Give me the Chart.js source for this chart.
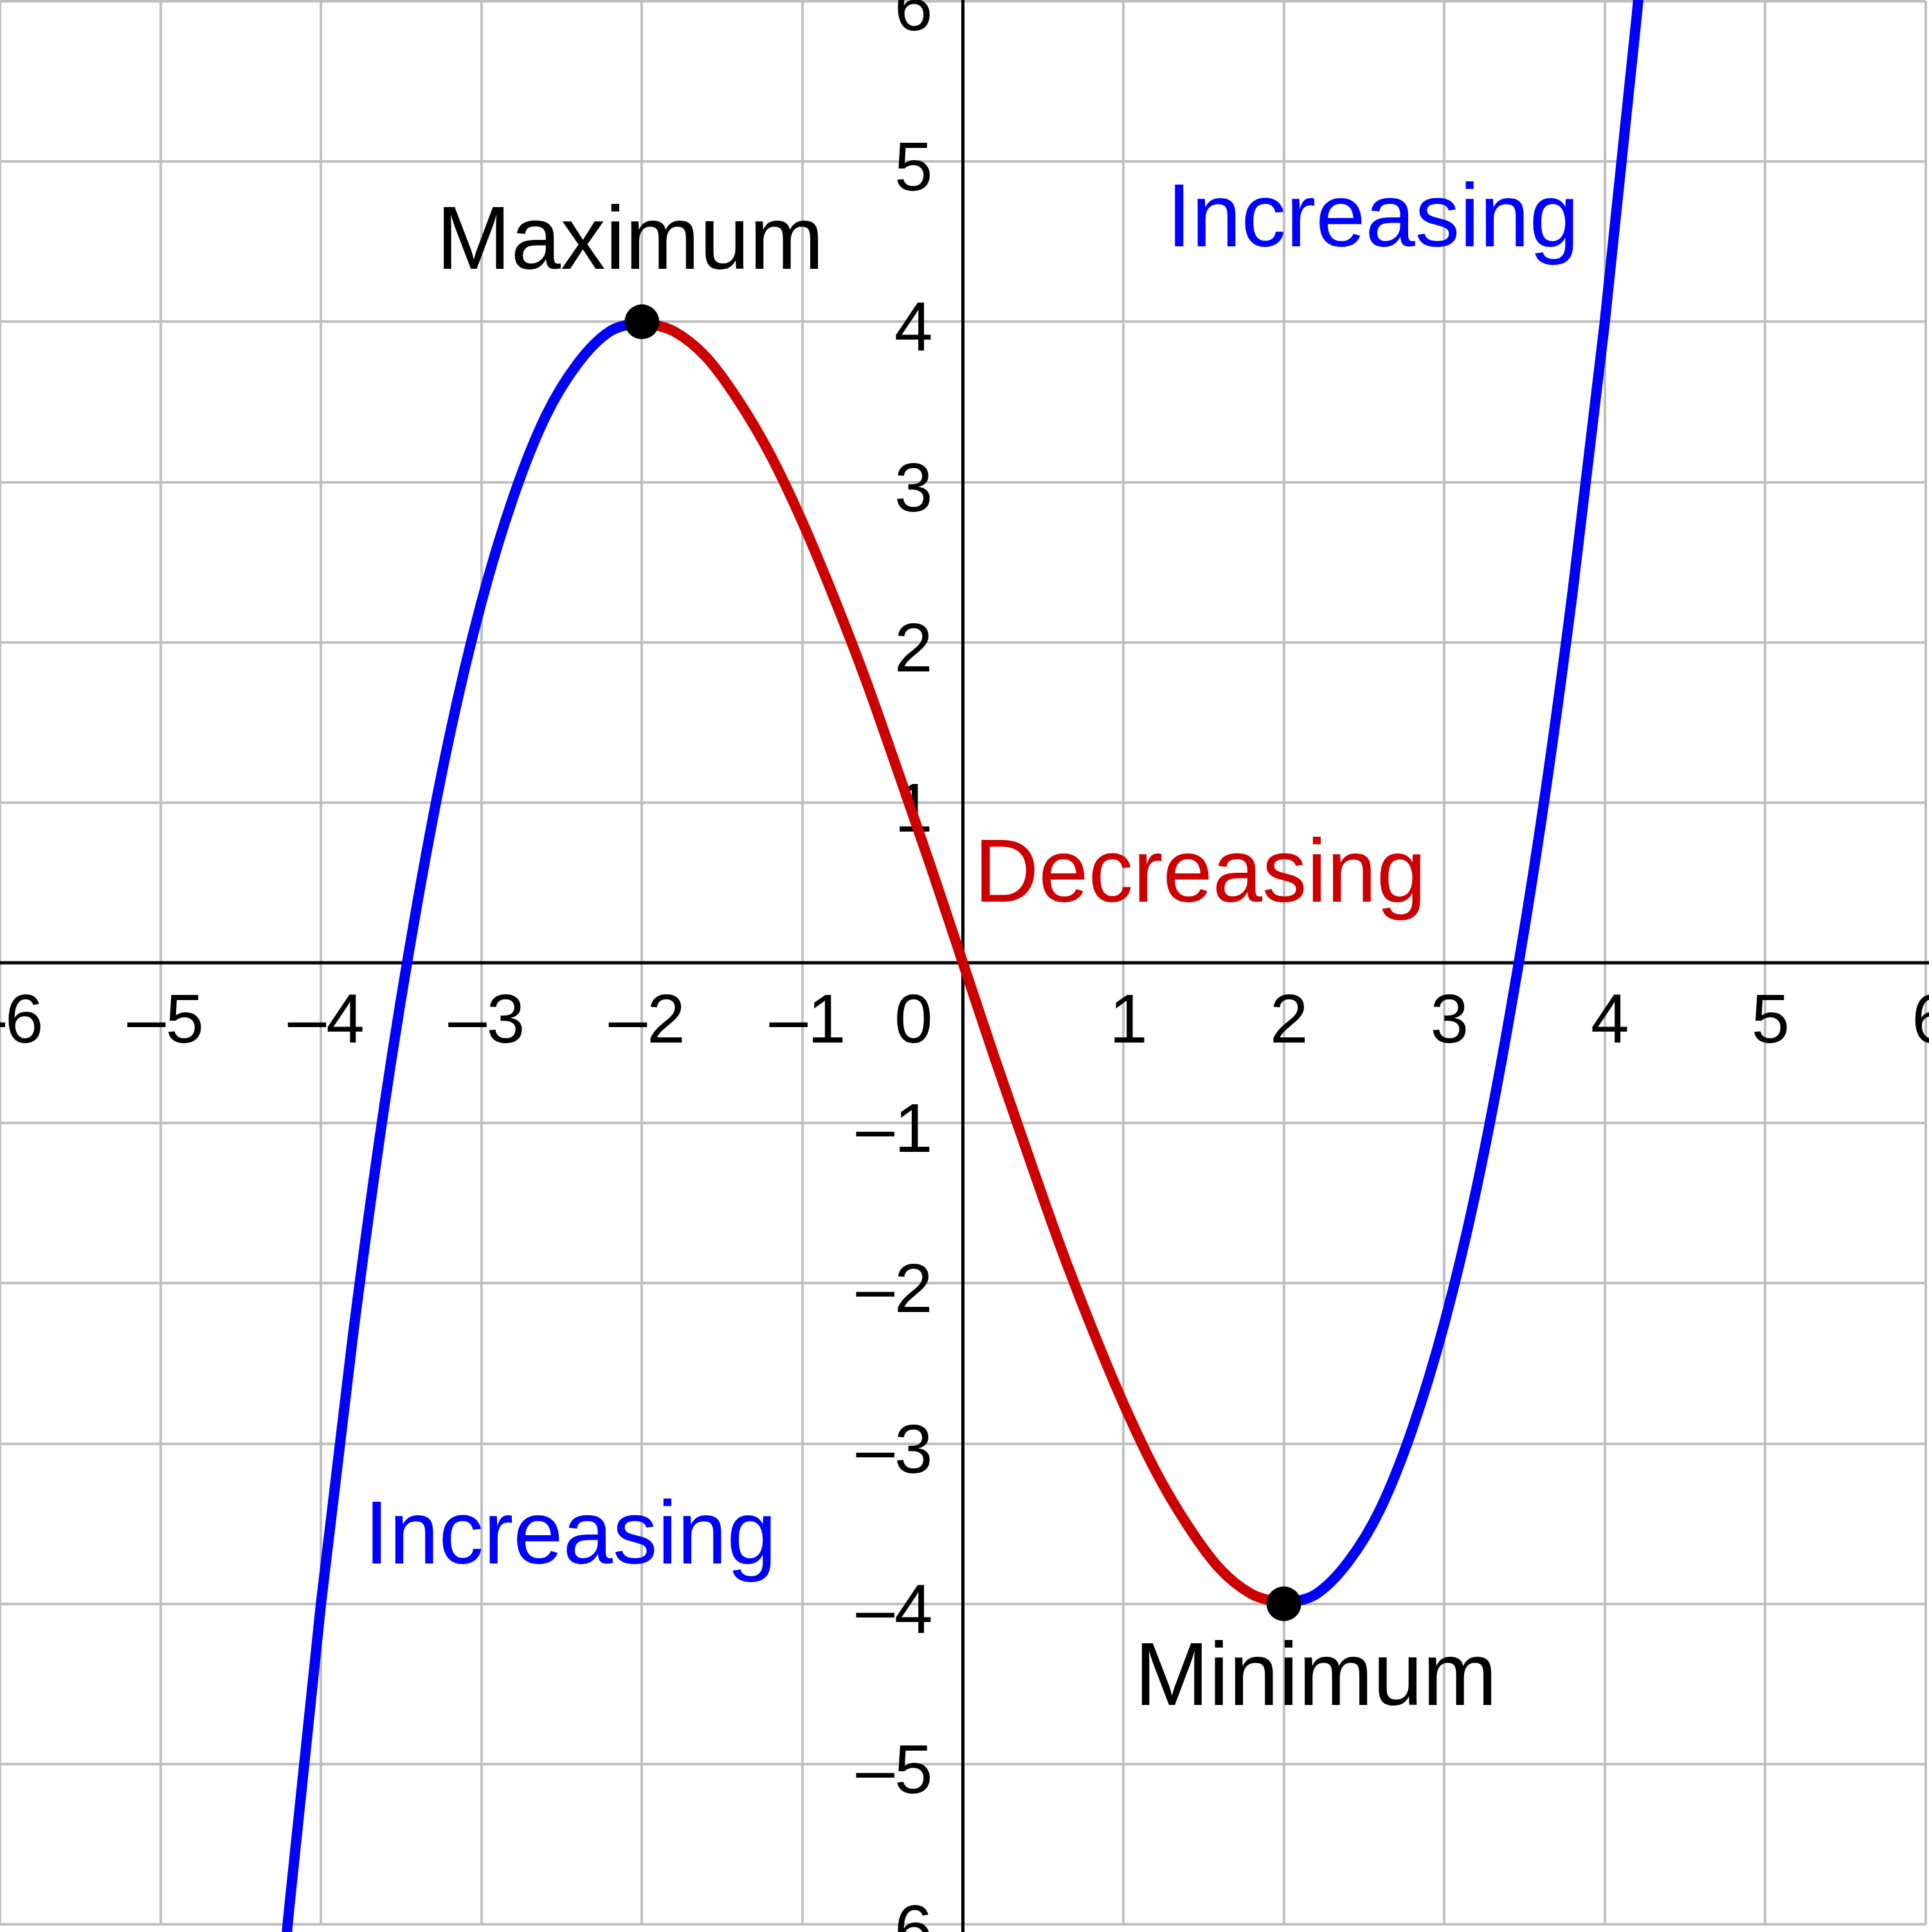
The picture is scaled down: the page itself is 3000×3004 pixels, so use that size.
<!DOCTYPE html>
<html>
<head>
<meta charset="utf-8">
<title>Increasing and decreasing intervals</title>
<script src="https://cdn.jsdelivr.net/npm/chart.js@4.4.1/dist/chart.umd.min.js"></script>
<style>
  html, body { margin: 0; padding: 0; background: #fff; overflow: hidden; }
  #graph { display: block; }
</style>
</head>
<body>
<canvas id="graph" width="3000" height="3004"></canvas>
<script>
// curve, split at the turning points
const riseLeftX = [-4.3, -4.2, -4.0, -3.8, -3.6, -3.4, -3.2, -3.0, -2.8, -2.6, -2.4, -2.2, -2.0];
const riseLeftY = [-6.98, -5.92, -4.00, -2.32, -0.86, 0.37, 1.41, 2.25, 2.91, 3.41, 3.74, 3.94, 4.00];

const fallX = [-2.0, -1.8, -1.6, -1.4, -1.2, -1.0, -0.8, -0.6, -0.4, -0.2, 0, 0.2, 0.4, 0.6, 0.8, 1.0, 1.2, 1.4, 1.6, 1.8, 2.0];
const fallY = [4.00, 3.94, 3.78, 3.51, 3.17, 2.75, 2.27, 1.75, 1.18, 0.60, 0, -0.60, -1.18, -1.75, -2.27, -2.75, -3.17, -3.51, -3.78, -3.94, -4.00];

const riseRightX = [2.0, 2.2, 2.4, 2.6, 2.8, 3.0, 3.2, 3.4, 3.6, 3.8, 4.0, 4.2, 4.4];
const riseRightY = [-4.00, -3.94, -3.74, -3.41, -2.91, -2.25, -1.41, -0.37, 0.86, 2.32, 4.00, 5.92, 8.10];

const turnX = [-2, 2];
const turnY = [4, -4];

const xTicks = [-6, -5, -4, -3, -2, -1, 0, 1, 2, 3, 4, 5, 6];
const yTicks = [-6, -5, -4, -3, -2, -1, 0, 1, 2, 3, 4, 5, 6];

const BLUE = '#0000ff';
const RED = '#cc0000';
const GRID = '#c0c0c0';
const FONT = '"Liberation Sans", Arial, sans-serif';

function points(xs, ys) {
    return xs.map((x, i) => ({ x: x, y: ys[i] }));
}

function fmt(v) {
    return v < 0 ? '\u2013' + Math.abs(v) : String(v);
}

// text notes, placed in graph units (left edge, baseline)
const notes = [
    { text: 'Maximum', color: '#000', at: [-3.28, 4.33] },
    { text: 'Increasing', color: BLUE, at: [1.27, 4.47] },
    { text: 'Decreasing', color: RED, at: [0.07, 0.38] },
    { text: 'Increasing', color: BLUE, at: [-3.73, -3.75] },
    { text: 'Minimum', color: '#000', at: [1.07, -4.63] }
];

const axesAndText = {
    id: 'axesAndText',
    beforeDatasetsDraw(chart) {
        const { ctx } = chart;
        const xs = chart.scales.x, ys = chart.scales.y;
        const x0 = xs.getPixelForValue(0), y0 = ys.getPixelForValue(0);

        ctx.save();
        ctx.strokeStyle = '#000';
        ctx.lineWidth = 5;
        ctx.beginPath();
        ctx.moveTo(x0, 0); ctx.lineTo(x0, chart.height);
        ctx.moveTo(0, y0); ctx.lineTo(chart.width, y0);
        ctx.stroke();

        ctx.fillStyle = '#000';
        ctx.font = '107px ' + FONT;
        ctx.textBaseline = 'alphabetic';
        ctx.textAlign = 'center';
        xTicks.forEach(v => {
            if (v === 0) return;
            ctx.fillText(fmt(v), xs.getPixelForValue(v) + 8, y0 + 124);
        });
        ctx.textAlign = 'right';
        yTicks.forEach(v => {
            if (v === 0) return;
            ctx.fillText(fmt(v), x0 - 47, ys.getPixelForValue(v) + 45);
        });
        ctx.fillText('0', x0 - 47, y0 + 124);
        ctx.restore();
    },
    afterDatasetsDraw(chart) {
        const { ctx } = chart;
        const xs = chart.scales.x, ys = chart.scales.y;
        ctx.save();
        ctx.font = '139px ' + FONT;
        ctx.textAlign = 'left';
        ctx.textBaseline = 'alphabetic';
        notes.forEach(n => {
            ctx.fillStyle = n.color;
            ctx.fillText(n.text, xs.getPixelForValue(n.at[0]), ys.getPixelForValue(n.at[1]));
        });
        ctx.restore();
    }
};

const curve = {
    showLine: true,
    pointRadius: 0,
    borderWidth: 16,
    cubicInterpolationMode: 'monotone',
    borderJoinStyle: 'round',
    clip: false
};

new Chart(document.getElementById('graph'), {
    type: 'scatter',
    data: {
        datasets: [
            {
                data: points(turnX, turnY),
                pointRadius: 27,
                pointBackgroundColor: '#000',
                pointBorderWidth: 0,
                showLine: false,
                clip: false
            },
            Object.assign({ data: points(riseLeftX, riseLeftY), borderColor: BLUE }, curve),
            Object.assign({ data: points(fallX, fallY), borderColor: RED }, curve),
            Object.assign({ data: points(riseRightX, riseRightY), borderColor: BLUE }, curve)
        ]
    },
    options: {
        responsive: false,
        devicePixelRatio: 1,
        animation: false,
        events: [],
        layout: { autoPadding: false, padding: { left: 0, right: 5, top: 2, bottom: 12 } },
        plugins: {
            legend: { display: false },
            tooltip: { enabled: false }
        },
        scales: {
            x: {
                type: 'linear',
                min: -6,
                max: 6,
                ticks: { stepSize: 1, display: false },
                grid: { color: GRID, lineWidth: 4, drawTicks: false },
                border: { display: false }
            },
            y: {
                type: 'linear',
                min: -6,
                max: 6,
                ticks: { stepSize: 1, display: false },
                grid: { color: GRID, lineWidth: 4, drawTicks: false },
                border: { display: false }
            }
        }
    },
    plugins: [axesAndText]
});
</script>
</body>
</html>
